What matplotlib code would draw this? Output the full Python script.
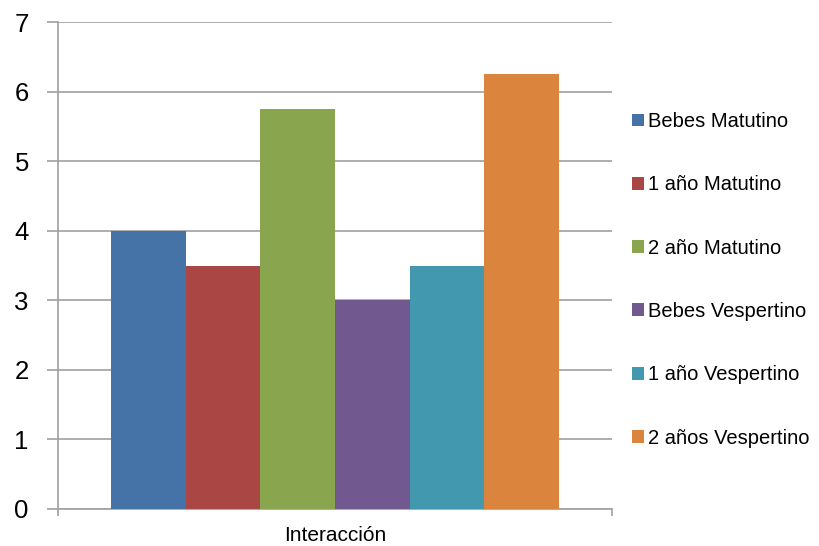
import matplotlib
matplotlib.use('Agg')
import matplotlib.pyplot as plt
from matplotlib.patches import Patch

# datos
series = ['Bebes Matutino', '1 año Matutino', '2 año Matutino',
          'Bebes Vespertino', '1 año Vespertino', '2 años Vespertino']
valores = [4.0, 3.5, 5.75, 3.0, 3.5, 6.25]
categoria = 'Interacción'
colores = ['#4572A7', '#AA4643', '#89A54E', '#71588F', '#4198AF', '#DB843D']

plt.rcParams['font.family'] = ['Liberation Sans', 'DejaVu Sans']

fig = plt.figure(figsize=(8.2, 5.46), dpi=100)
ax = fig.add_axes([58/820, 1-509/546, (612-58)/820, (509-22)/546])

n = len(series)
ancho = 0.807 / n
for i, (nombre, v, c) in enumerate(zip(series, valores, colores)):
    x = -0.807/2 + ancho*(i + 0.5)
    ax.bar(x, v, width=ancho, color=c, label=nombre, zorder=3)

ax.set_xlim(-0.5, 0.5)
ax.set_ylim(0, 7)
ax.set_yticks(range(0, 8))
ax.yaxis.grid(True, color='#A0A0A0', linewidth=1.2, zorder=0)
ax.set_xticks([0])
ax.set_xticklabels([categoria], fontsize=15)
ax.set_xticks([-0.5, 0.5], minor=True)
ax.tick_params(axis='x', which='major', length=0, pad=12)
ax.tick_params(axis='x', which='minor', length=5, color='#A0A0A0', width=1.2)
ax.tick_params(axis='y', length=8, color='#A0A0A0', width=1.2, labelsize=18.5, pad=13)
for s in ['top', 'right']:
    ax.spines[s].set_visible(False)
for s in ['left', 'bottom']:
    ax.spines[s].set_color('#A0A0A0')
    ax.spines[s].set_linewidth(1.2)

handles = [Patch(facecolor=c, edgecolor='none') for c in colores]
fig.legend(handles, series, loc='upper left', bbox_to_anchor=(632/820, 1-112/546),
           frameon=False, fontsize=14.5, handlelength=0.6, handleheight=0.6,
           handletextpad=0.2, labelspacing=2.2, borderaxespad=0, borderpad=0)

plt.savefig('out.png', dpi=100)
plt.close()
